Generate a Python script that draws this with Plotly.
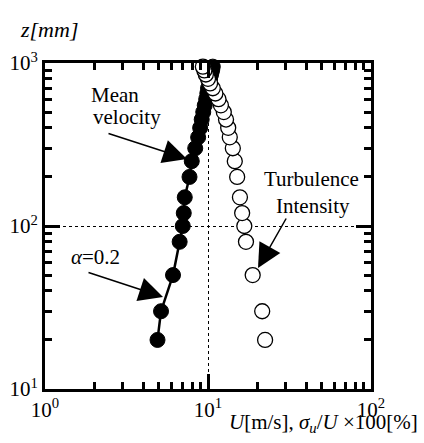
import plotly.graph_objects as go

# ---- data ----
z_mm = [20, 30, 50, 80, 100, 120, 150, 200, 250, 300, 350, 400, 450, 500,
        550, 600, 650, 700, 750, 800, 850, 900, 950]
mean_velocity = [4.9, 5.15, 6.1, 6.7, 7.0, 7.1, 7.2, 7.7, 7.95, 8.35, 8.7, 8.95,
                 9.15, 9.35, 9.55, 9.75, 9.9, 10.0, 10.2, 10.3, 10.45, 10.6, 10.7]
turbulence_intensity = [22.4, 21.5, 18.8, 17.1, 16.7, 16.2, 15.7, 15.1, 14.6, 14.2,
                        13.6, 13.3, 12.9, 12.5, 12.0, 11.6, 11.1, 10.7, 10.3,
                        10.0, 9.7, 9.5, 9.3]

x_tickvals = [1, 10, 100]
x_ticktext = ["10<sup>0</sup>", "10<sup>1</sup>", "10<sup>2</sup>"]
y_tickvals = [10, 100, 1000]
y_ticktext = ["10<sup>1</sup>", "10<sup>2</sup>", "10<sup>3</sup>"]
x_minor = [2, 3, 4, 5, 6, 7, 8, 9, 20, 30, 40, 50, 60, 70, 80, 90]
y_minor = [20, 30, 40, 50, 60, 70, 80, 90, 200, 300, 400, 500, 600, 700, 800, 900]

FONT = "Liberation Serif, Times New Roman, DejaVu Serif, serif"
W, H = 424, 443
L, R, T, B = 45, 371, 63, 389


def px(x):
    return (x - L) / (R - L)


def py(y):
    return (B - y) / (B - T)


fig = go.Figure()
fig.add_trace(go.Scatter(
    x=mean_velocity, y=z_mm, mode="lines+markers",
    line=dict(color="black", width=2.5),
    marker=dict(size=15, color="black", line=dict(color="black", width=1)),
    cliponaxis=False, showlegend=False))
fig.add_trace(go.Scatter(
    x=turbulence_intensity, y=z_mm, mode="markers",
    marker=dict(size=15, color="white", line=dict(color="black", width=1.3)),
    cliponaxis=False, showlegend=False))

axis_common = dict(
    type="log", showline=True, linecolor="black", linewidth=3, mirror="ticks",
    ticks="inside", ticklen=15, tickwidth=3, tickcolor="black",
    showgrid=True, gridcolor="black", gridwidth=1.2, griddash="dot",
    zeroline=False, automargin=False,
    tickfont=dict(family=FONT, size=21, color="black"),
)

fig.update_xaxes(range=[0, 2], tickmode="array", tickvals=x_tickvals,
                 ticktext=x_ticktext, ticklabelstandoff=0,
                 minor=dict(tickmode="array", tickvals=x_minor, ticks="inside",
                            ticklen=7, tickwidth=3, tickcolor="black",
                            showgrid=False),
                 **axis_common)
fig.update_yaxes(range=[1, 3], tickmode="array", tickvals=y_tickvals,
                 ticktext=y_ticktext,
                 minor=dict(tickmode="array", tickvals=y_minor, ticks="inside",
                            ticklen=7, tickwidth=3, tickcolor="black",
                            showgrid=False),
                 **axis_common)

annotations = []


def text(xp, yp, s, xanchor="center", size=21):
    annotations.append(dict(
        x=px(xp), y=py(yp), xref="paper", yref="paper", text=s,
        showarrow=False, xanchor=xanchor, yanchor="middle",
        font=dict(family=FONT, size=size, color="black")))


def arrow(tip_x, tip_y, tail_x, tail_y):
    annotations.append(dict(
        x=px(tip_x), y=py(tip_y), xref="paper", yref="paper", text="",
        showarrow=True, ax=tail_x - tip_x, ay=tail_y - tip_y,
        arrowhead=2, arrowsize=3.2, arrowwidth=1.5, arrowcolor="black"))


text(49, 30, "<i>z[mm]</i>", size=22)
text(89, 95, "Mean", xanchor="left")
text(91, 117, "velocity", xanchor="left")
text(311, 179, "Turbulence")
text(313, 206, "Intensity")
text(69, 257, "<i>α</i>=0.2", xanchor="left")
annotations.append(dict(
    x=px(420), y=py(423), xref="paper", yref="paper",
    text="<i>U</i>[m/s], <i>σ</i><sub><i>u</i></sub>/<i>U</i> ×100[%]",
    showarrow=False, xanchor="right", yanchor="middle",
    font=dict(family=FONT, size=21, color="black")))
arrow(187, 159, 107, 133)
arrow(163, 297, 87, 272)
arrow(258, 268, 287, 217)

fig.update_layout(
    width=W, height=H,
    margin=dict(l=L, r=W - R, t=T, b=H - B),
    paper_bgcolor="white", plot_bgcolor="white",
    annotations=annotations,
)

fig.write_html("out.html", config={"displayModeBar": False},
               post_script="document.body.style.margin='0';"
                           "document.body.style.padding='0';")
